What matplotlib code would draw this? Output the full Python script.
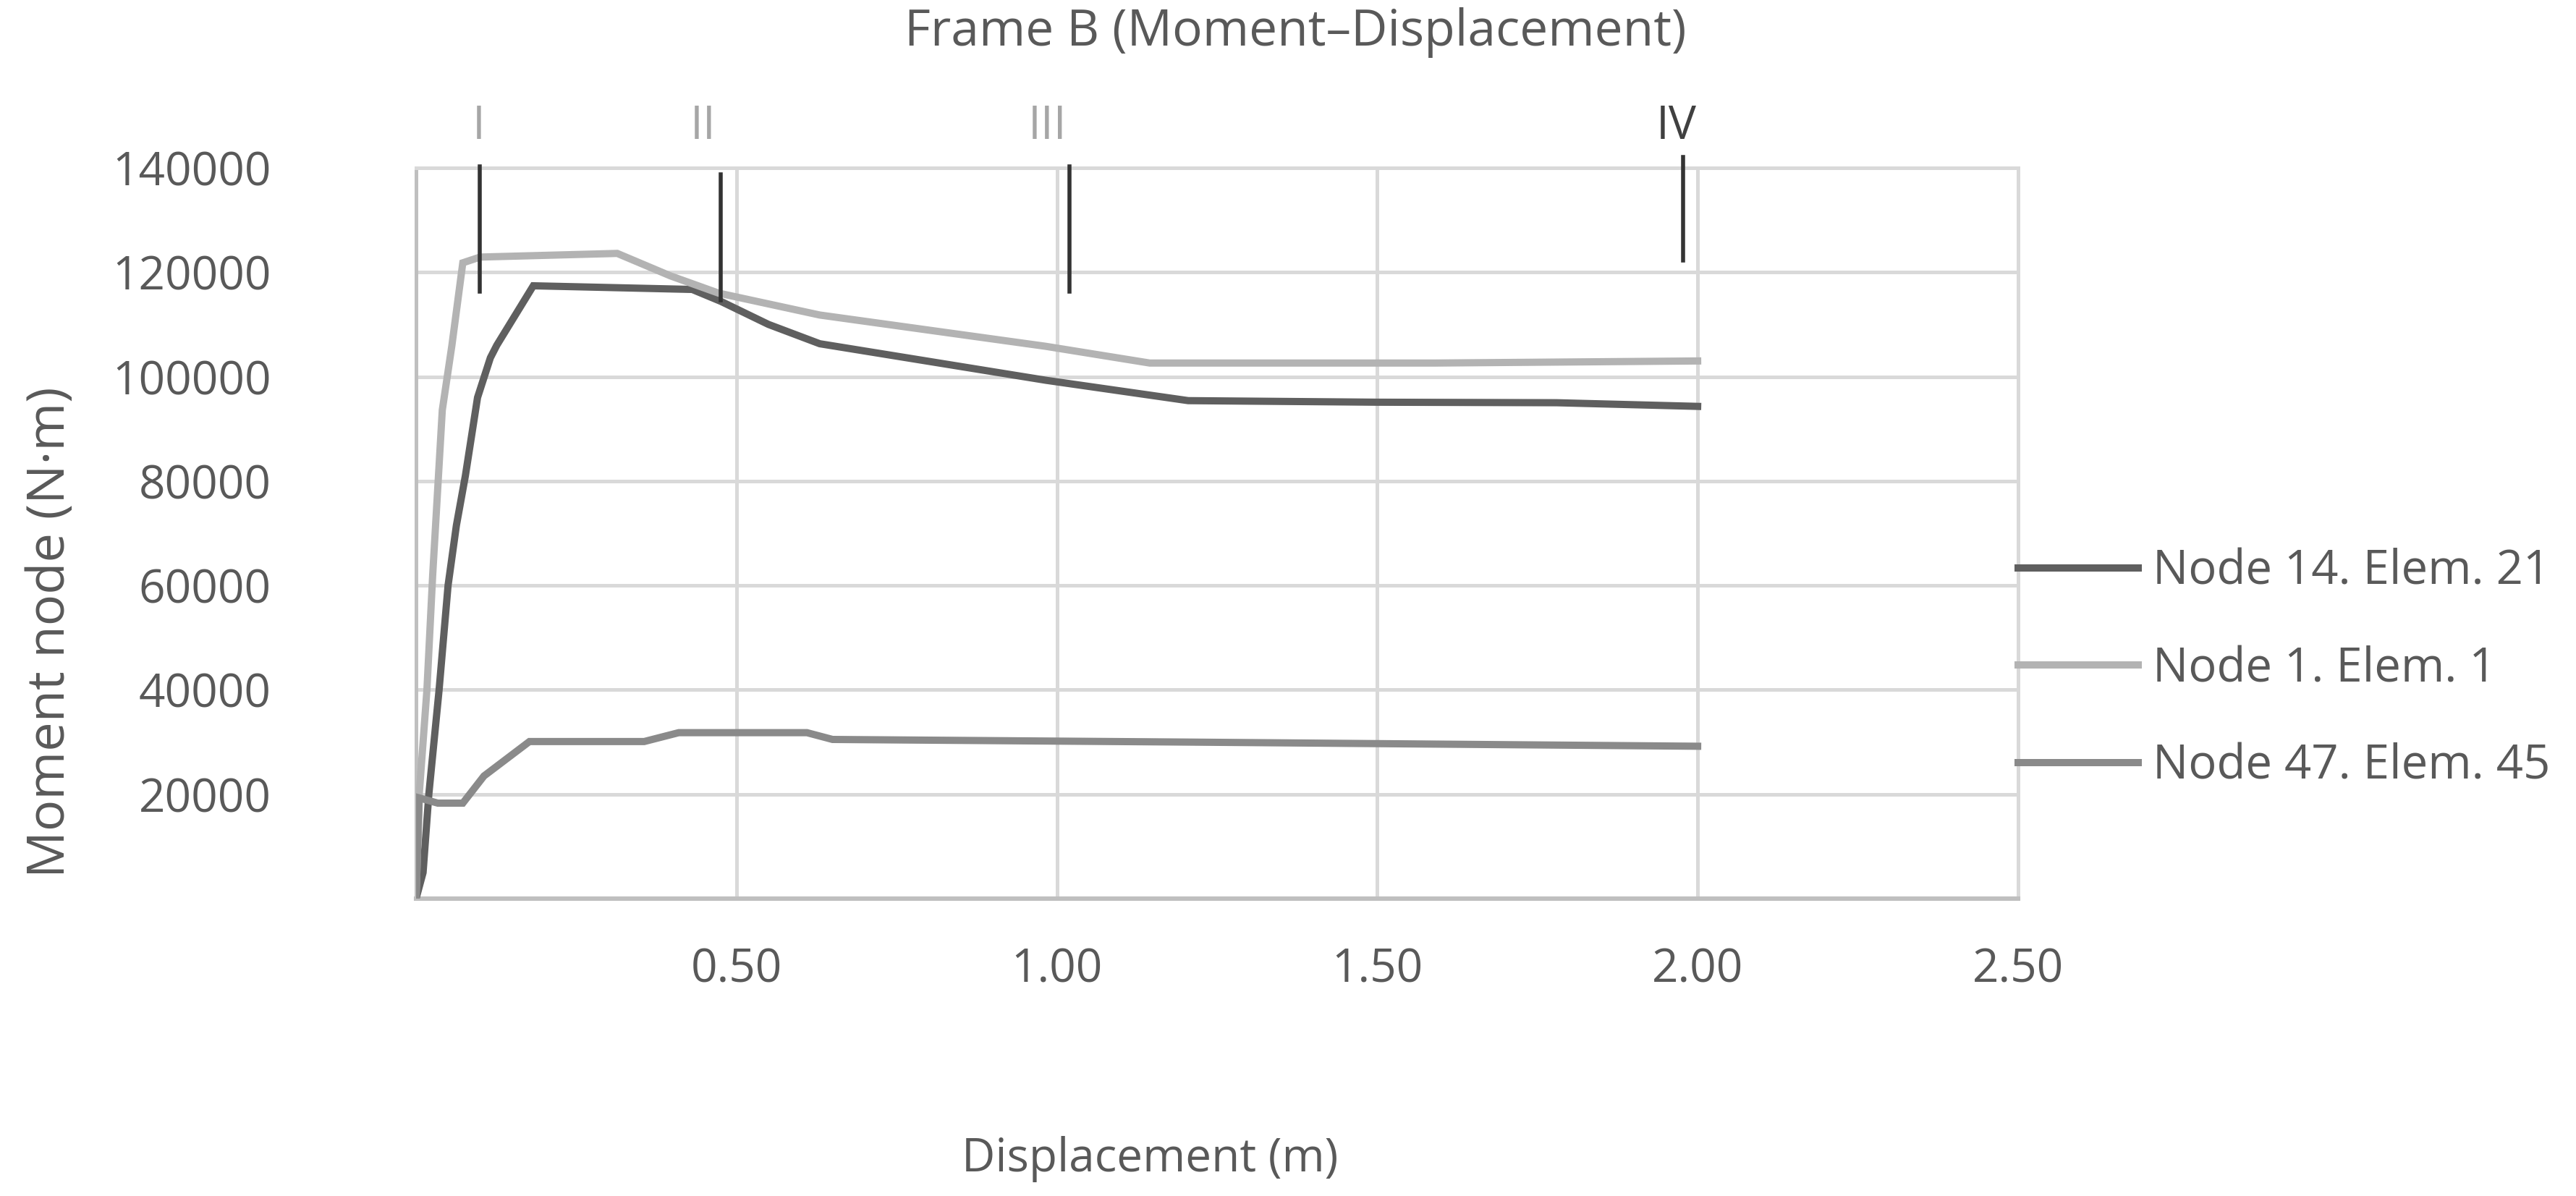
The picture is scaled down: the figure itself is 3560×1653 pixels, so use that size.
import matplotlib.pyplot as plt
from matplotlib.lines import Line2D

plt.rcParams['font.family'] = ['Open Sans', 'DejaVu Sans']

# Dados (deslocamento em m, momento em N·m)
disp_n14 = [0.0, 0.011, 0.02, 0.036, 0.05, 0.063, 0.077, 0.096, 0.116, 0.126, 0.183,
            0.431, 0.476, 0.55, 0.63, 0.983, 1.205, 1.5, 1.78, 2.0]
mom_n14 = [0, 5000, 20000, 40000, 60000, 71500, 81000, 96000, 103600, 106000, 117400,
           116700, 114400, 110000, 106300, 99300, 95400, 95100, 95000, 94300]

disp_n1 = [0.0, 0.005, 0.017, 0.026, 0.041, 0.056, 0.073, 0.10, 0.314, 0.397, 0.472,
           0.63, 0.983, 1.145, 1.59, 2.0]
mom_n1 = [0, 20000, 40000, 62000, 93600, 106000, 121800, 122900, 123600, 119300, 116000,
          111800, 105800, 102600, 102600, 103000]

disp_n47 = [0.0, 0.005, 0.034, 0.073, 0.106, 0.177, 0.356, 0.41, 0.61, 0.65, 1.2, 2.0]
mom_n47 = [0, 19300, 18300, 18300, 23500, 30100, 30100, 31800, 31800, 30500, 30000, 29200]

series_labels = ["Node 14. Elem. 21", "Node 1. Elem. 1", "Node 47. Elem. 45"]
series_colors = ["#5f5f5f", "#b3b3b3", "#8a8a8a"]

# Fases I-IV: posição das linhas verticais e dos rótulos
phase_names = ["I", "II", "III", "IV"]
phase_x = [0.10, 0.475, 1.02, 1.977]
phase_label_x = [0.098, 0.448, 0.985, 1.967]
phase_top = [140300, 138700, 140300, 142100]
phase_bottom = [116300, 114600, 116300, 122200]
phase_label_colors = ["#a6a6a6", "#a6a6a6", "#a6a6a6", "#404040"]

y_ticks = [20000, 40000, 60000, 80000, 100000, 120000, 140000]
x_ticks = [0.5, 1.0, 1.5, 2.0, 2.5]
x_tick_labels = ["0.50", "1.00", "1.50", "2.00", "2.50"]

txt = "#595959"
grid_c = "#d9d9d9"

fig = plt.figure(figsize=(17.8, 8.265), dpi=200)
ax = fig.add_axes([0.1615, 0.2486, 0.6219, 0.6111])

for xs, ys, lab, col in zip([disp_n14, disp_n1, disp_n47], [mom_n14, mom_n1, mom_n47],
                            series_labels, series_colors):
    ax.plot(xs, ys, color=col, lw=3.6, label=lab, zorder=3, solid_joinstyle='miter')

for xp, x_lab, top, bot, name, lc in zip(phase_x, phase_label_x, phase_top, phase_bottom,
                                         phase_names, phase_label_colors):
    ax.plot([xp, xp], [bot, top], color="#333333", lw=2.0, zorder=4, clip_on=False)
    ax.text(x_lab, 1.056, name, transform=ax.get_xaxis_transform(), ha='center',
            va='center', fontsize=23, color=lc)

ax.set_xlim(0, 2.5)
ax.set_ylim(0, 140000)
ax.set_xticks(x_ticks)
ax.set_xticklabels(x_tick_labels)
ax.set_yticks(y_ticks)
ax.tick_params(axis='both', length=0, labelsize=23, labelcolor=txt)
ax.tick_params(axis='y', pad=72)
ax.tick_params(axis='x', pad=24)

ax.grid(True, color=grid_c, lw=1.8, zorder=0)
ax.set_axisbelow(True)
for s in ['top', 'right']:
    ax.spines[s].set_color(grid_c)
    ax.spines[s].set_linewidth(1.8)
ax.spines['left'].set_color("#bfbfbf")
ax.spines['left'].set_linewidth(1.8)
ax.spines['bottom'].set_color("#bfbfbf")
ax.spines['bottom'].set_linewidth(2.2)

ax.set_ylabel("Moment node (N·m)", fontsize=26, color=txt)
ax.yaxis.set_label_coords(-0.212, 0.365)
ax.set_xlabel("Displacement (m)", fontsize=23, color=txt)
ax.xaxis.set_label_coords(0.458, -0.325)

fig.text(0.503, 0.973, "Frame B (Moment–Displacement)", ha='center', va='center',
         fontsize=25, color=txt)

handles = [Line2D([0], [0], color=c, lw=3.6) for c in series_colors]
fig.legend(handles, series_labels, loc='center left', bbox_to_anchor=(0.7834, 0.4404),
           frameon=False, fontsize=23.5, labelcolor=txt, handlelength=2.55,
           handletextpad=0.3, labelspacing=1.05, borderpad=0, borderaxespad=0)

fig.savefig("out.png", dpi=200, facecolor='white')
